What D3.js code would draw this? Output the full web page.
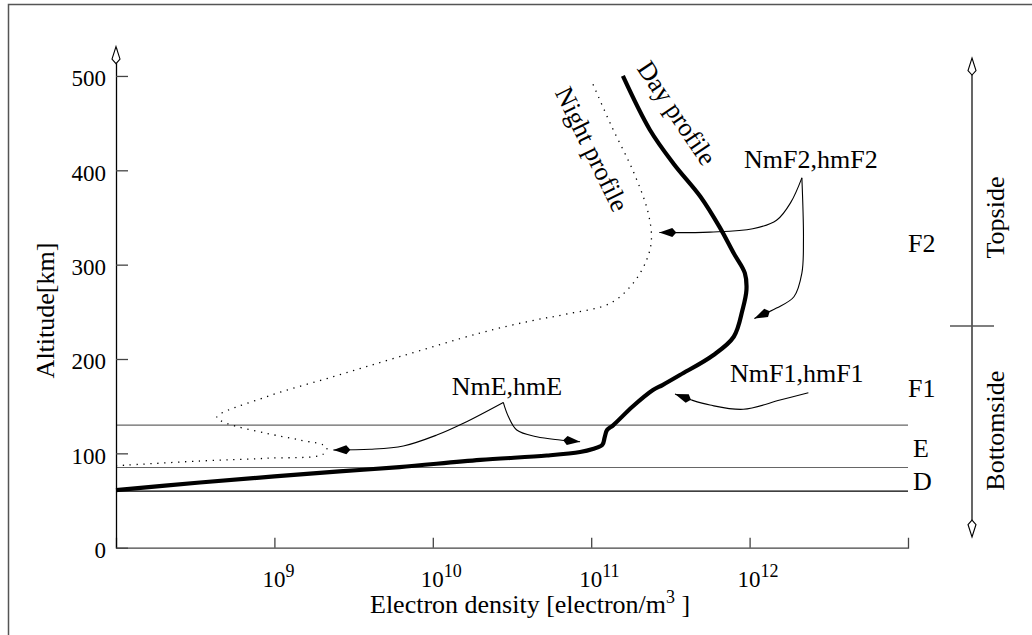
<!DOCTYPE html>
<html><head><meta charset="utf-8">
<script src="https://cdn.jsdelivr.net/npm/d3@7"></script>
<style>
html,body{margin:0;padding:0;background:#fff;}
svg{display:block;}
svg text{font-family:"Liberation Serif","Times New Roman",serif;}
</style></head><body>
<svg id="chart" width="1032" height="635"></svg>
<script>
// ---------------- data ----------------
const altitudeTicks = [0, 100, 200, 300, 400, 500];
const densityExponents = [9, 10, 11, 12];
const layerBoundaries = [60, 85, 130];          // km: D/E/F boundaries
const regionBoundary = 235;                     // km: bottomside / topside split
// Day profile: log10(electron density) vs altitude (km)
const dayLogNe = [8.00, 8.53, 9.00, 9.41, 9.79, 10.30, 10.72, 10.93, 11.01, 11.07, 11.085, 11.10, 11.14, 11.26, 11.39, 11.45, 11.56, 11.77, 11.90, 11.955, 11.98, 11.97, 11.90, 11.81, 11.69, 11.52, 11.37, 11.20];
const dayAlt   = [61,   69.1, 75.5, 80.8, 85.5, 93,    97.7,  101.4, 104.6, 108.9, 117,    124.7, 130,   149.4, 167.1, 172.4, 183,   204,   223.6, 252,    273,   291,   312,   340,   372,   407,   443,   500];
// Night profile
const nightLogNe = [8.00, 8.53, 8.95, 9.31, 9.33, 9.16, 8.95, 8.70, 8.636, 8.95, 9.37, 9.79, 10.30, 10.614, 10.845, 11.12, 11.264, 11.35, 11.38, 11.36, 11.27, 11.12, 11.00];
const nightAlt   = [86.9, 91.9, 94.8, 99.3, 106.7, 114.2, 121.2, 131.8, 138.2, 160, 181.2, 202.4, 227.6, 240.2, 247.7, 259, 280.2, 305, 326, 354.7, 397.1, 449.8, 495.6];

// annotation leader curves (log10 Ne, km); last point is the arrow tip
const nmF2NightArrow = [[12.33, 392], [12.26, 366], [12.17, 347], [12.02, 338], [11.75, 334.5], [11.43, 334]];
const nmF2DayArrow   = [[12.33, 392], [12.34, 326], [12.33, 291], [12.28, 266], [12.17, 254], [12.03, 243]];
const nmEDayArrow    = [[10.445, 154], [10.477, 139], [10.53, 124.7], [10.656, 117.6], [10.803, 114.2], [10.93, 112.3]];
const nmENightArrow  = [[10.445, 154], [10.193, 131.9], [10.025, 119.4], [9.814, 107.8], [9.604, 104.3], [9.372, 103.6]];
const nmF1Arrow      = [[12.371, 164.3], [12.192, 156.5], [11.96, 146.7], [11.75, 151.2], [11.634, 156.5], [11.529, 162.9]];

// ---------------- chart ----------------
const svg = d3.select("#chart");
const x = d3.scaleLog().domain([1e8, 1e13]).range([116, 908]);
const y = d3.scaleLinear().domain([0, 530]).range([547.7, 47.65]);
const px = l => x(Math.pow(10, l));

// outer frame (only top/left visible)
svg.append("path").attr("d", "M8.5,640V4.5H1040").attr("fill", "none").attr("stroke", "#555").attr("stroke-width", 1.5);

// layer boundary lines
svg.selectAll("line.layer").data(layerBoundaries).join("line").attr("class", "layer")
  .attr("x1", x(1e8)).attr("x2", x(1e13))
  .attr("y1", d => y(d)).attr("y2", d => y(d))
  .attr("stroke", (d, i) => i === 0 ? "#000" : "#666").attr("stroke-width", 1.2);

// x axis
const xAxis = d3.axisBottom(x)
  .tickValues(densityExponents.map(e => Math.pow(10, e)))
  .tickSize(-10).tickSizeOuter(-10).tickFormat(() => "");
const gx = svg.append("g").attr("transform", `translate(0,${y(0)})`).call(xAxis);
gx.select(".domain").attr("stroke", "#444").attr("stroke-width", 1.3);
gx.selectAll(".tick line").attr("stroke", "#444").attr("stroke-width", 1.3);
gx.selectAll(".tick text").remove();
const xl = svg.selectAll("text.xlab").data(densityExponents).join("text").attr("class", "xlab")
  .attr("x", d => px(d) - 12).attr("y", 587)
  .style("font-size", "23px").attr("fill", "#000");
xl.append("tspan").text("10");
xl.append("tspan").style("font-size", "18px").attr("dy", -10).text(d => d);

// y axis
const yAxis = d3.axisLeft(y).tickValues(altitudeTicks).tickSize(-12).tickSizeOuter(0).tickPadding(10);
const gy = svg.append("g").attr("transform", `translate(${x(1e8)},0)`).call(yAxis);
gy.select(".domain").attr("stroke", "#000").attr("stroke-width", 1.3);
gy.selectAll(".tick line").attr("stroke", "#444").attr("stroke-width", 1.3);
gy.selectAll(".tick text").style("font-size", "23px").style("font-family", "'Liberation Serif', serif").attr("dy", "0.43em").attr("fill", "#000");

function openHead(cx, tipY, dir) { // dir -1 up, +1 down
  const t = tipY, w = tipY - dir * 12.5, b = tipY - dir * 17;
  return `M${cx},${t}L${cx + 4},${w}L${cx},${b}L${cx - 4},${w}Z`;
}
svg.append("path").attr("d", openHead(x(1e8), y(530) - 1, -1)).attr("fill", "#fff").attr("stroke", "#000").attr("stroke-width", 1.1);

// axis titles
svg.append("text").attr("transform", `translate(53.5,310.5) rotate(-90)`)
  .attr("text-anchor", "middle").style("font-size", "26px").text("Altitude[km]");
const xt = svg.append("text").attr("x", 370).attr("y", 613).style("font-size", "26px");
xt.append("tspan").text("Electron density [electron/m");
xt.append("tspan").style("font-size", "18px").attr("dy", -10).text("3");
xt.append("tspan").attr("dy", 10).text(" ]");

// profiles
const line = d3.line().x(d => px(d[0])).y(d => y(d[1])).curve(d3.curveCatmullRom.alpha(0.5));
svg.append("path").datum(nightLogNe.map((v, i) => [v, nightAlt[i]]))
  .attr("d", line).attr("fill", "none").attr("stroke", "#000").attr("stroke-width", 1.3)
  .attr("stroke-dasharray", "1.3,5.6");
svg.append("path").datum(dayLogNe.map((v, i) => [v, dayAlt[i]]))
  .attr("d", line).attr("fill", "none").attr("stroke", "#000").attr("stroke-width", 4.2)
  .attr("stroke-linejoin", "round");

// profile labels
svg.append("text").attr("transform", `translate(${px(11.495)},${y(455.6)}) rotate(56)`)
  .attr("text-anchor", "middle").style("font-size", "26px").text("Day profile");
svg.append("text").attr("transform", `translate(${px(10.955)},${y(418.4)}) rotate(64)`)
  .attr("text-anchor", "middle").style("font-size", "26px").text("Night profile");

// annotation arrows
const thin = d3.line().x(d => px(d[0])).y(d => y(d[1])).curve(d3.curveCatmullRom.alpha(0.5));
function arrow(pts) {
  svg.append("path").datum(pts).attr("d", thin).attr("fill", "none").attr("stroke", "#000").attr("stroke-width", 1.1);
  const n = pts.length;
  const tx = px(pts[n - 1][0]), ty = y(pts[n - 1][1]);
  const sx = px(pts[n - 2][0]), sy = y(pts[n - 2][1]);
  const a = Math.atan2(ty - sy, tx - sx) * 180 / Math.PI;
  svg.append("path").attr("transform", `translate(${tx},${ty}) rotate(${a})`)
    .attr("d", "M0,0L-13,-4.5L-17,0L-13,4.5Z").attr("fill", "#000");
}
[nmF2NightArrow, nmF2DayArrow, nmEDayArrow, nmENightArrow, nmF1Arrow].forEach(arrow);

svg.append("text").attr("x", px(11.965)).attr("y", y(402.6)).style("font-size", "26px").text("NmF2,hmF2");
svg.append("text").attr("x", px(11.876)).attr("y", y(175.6)).style("font-size", "26px").text("NmF1,hmF1");
svg.append("text").attr("x", px(10.119)).attr("y", y(161.8)).style("font-size", "26px").text("NmE,hmE");

// layer names
const layerNames = ["F2", "F1", "E", "D"];
const layerLabelAlt = [313, 160, 96, 61];
const layerLabelX = [908, 908, 913, 913];
svg.selectAll("text.layername").data(layerNames).join("text").attr("class", "layername")
  .attr("x", (d, i) => layerLabelX[i]).attr("y", (d, i) => y(layerLabelAlt[i]))
  .style("font-size", "26px").text(d => d);

// right-hand bottomside/topside axis
const rx = 972;
svg.append("line").attr("x1", rx).attr("x2", rx).attr("y1", y(519) + 17).attr("y2", y(11.3) - 17).attr("stroke", "#000").attr("stroke-width", 1.2);
svg.append("path").attr("d", openHead(rx, y(519), -1)).attr("fill", "#fff").attr("stroke", "#000").attr("stroke-width", 1.1);
svg.append("path").attr("d", openHead(rx, y(11.3), 1)).attr("fill", "#fff").attr("stroke", "#000").attr("stroke-width", 1.1);
svg.append("line").attr("x1", rx - 22).attr("x2", rx + 22).attr("y1", y(regionBoundary)).attr("y2", y(regionBoundary)).attr("stroke", "#555").attr("stroke-width", 1.3);
svg.append("text").attr("transform", `translate(1004,${y(350)}) rotate(-90)`).attr("text-anchor", "middle").style("font-size", "26px").text("Topside");
svg.append("text").attr("transform", `translate(1004,${y(124)}) rotate(-90)`).attr("text-anchor", "middle").style("font-size", "26px").text("Bottomside");
</script>
</body></html>
